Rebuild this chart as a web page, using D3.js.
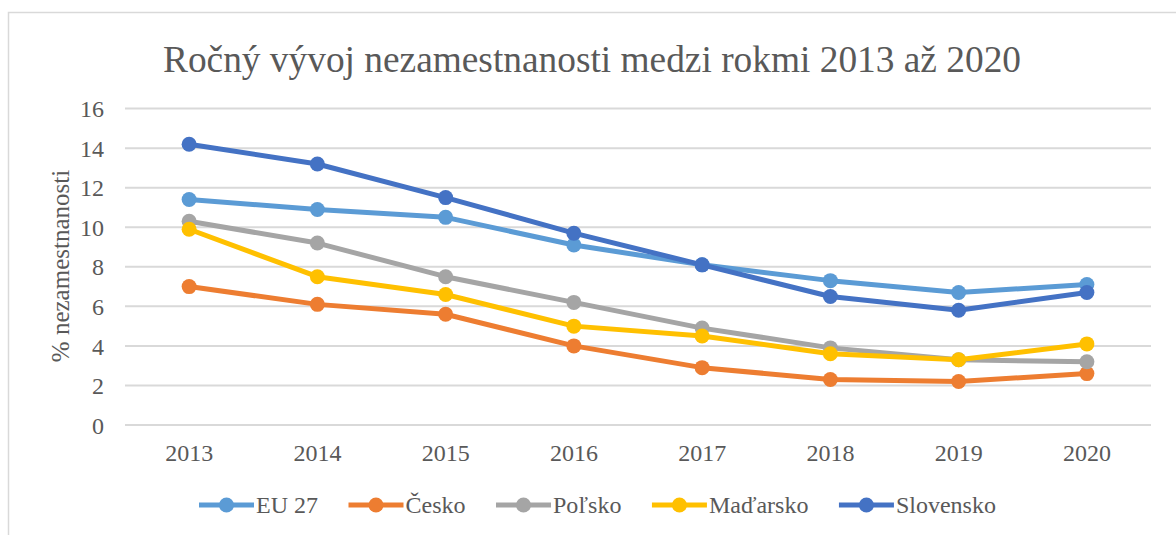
<!DOCTYPE html>
<html>
<head>
<meta charset="utf-8">
<script src="https://cdn.jsdelivr.net/npm/d3@7"></script>
<style>
  body { margin: 0; background: #fff; }
</style>
</head>
<body>
<svg id="chart" width="1176" height="535"></svg>
<script>
// data
var years = ["2013", "2014", "2015", "2016", "2017", "2018", "2019", "2020"];
var seriesNames = ["EU 27", "Česko", "Poľsko", "Maďarsko", "Slovensko"];
var seriesColors = ["#5B9BD5", "#ED7D31", "#A5A5A5", "#FFC000", "#4472C4"];
var eu27 = [11.4, 10.9, 10.5, 9.1, 8.1, 7.3, 6.7, 7.1];
var cesko = [7.0, 6.1, 5.6, 4.0, 2.9, 2.3, 2.2, 2.6];
var polsko = [10.3, 9.2, 7.5, 6.2, 4.9, 3.9, 3.3, 3.2];
var madarsko = [9.9, 7.5, 6.6, 5.0, 4.5, 3.6, 3.3, 4.1];
var slovensko = [14.2, 13.2, 11.5, 9.7, 8.1, 6.5, 5.8, 6.7];
var yTicks = [0, 2, 4, 6, 8, 10, 12, 14, 16];

var FONT = "Liberation Serif";
var TXT = "#595959";

var seriesValues = [eu27, cesko, polsko, madarsko, slovensko];
var series = seriesNames.map(function(n, i) {
  return { name: n, color: seriesColors[i], values: seriesValues[i] };
});

var svg = d3.select("#chart");

// chart frame (left + top edges visible)
svg.append("path")
  .attr("d", "M8.5,535 L8.5,12.5 L1176,12.5")
  .attr("fill", "none")
  .attr("stroke", "#d9d9d9")
  .attr("stroke-width", 1.5);

var x = d3.scaleBand().domain(years).range([125, 1151]);
var y = d3.scaleLinear().domain([0, 16]).range([425, 108.6]);

// grid lines
svg.append("g").selectAll("line")
  .data(yTicks)
  .enter().append("line")
    .attr("x1", 125).attr("x2", 1151)
    .attr("y1", function(d) { return y(d); })
    .attr("y2", function(d) { return y(d); })
    .attr("stroke", "#d9d9d9")
    .attr("stroke-width", 2);

// y axis labels
var yAxis = d3.axisLeft(y).tickValues(yTicks).tickSize(0).tickPadding(21);
var gy = svg.append("g").attr("transform", "translate(125,0)").call(yAxis);
gy.attr("font-family", FONT).attr("font-size", 24);
gy.select(".domain").remove();
gy.selectAll("text")
  .attr("fill", TXT)
  .attr("dy", "0.34em");

// x axis labels
var xAxis = d3.axisBottom(x).tickSize(0);
var gx = svg.append("g").attr("transform", "translate(0,425)").call(xAxis);
gx.attr("font-family", FONT).attr("font-size", 24);
gx.select(".domain").remove();
gx.selectAll("text")
  .attr("fill", TXT)
  .attr("y", 36)
  .attr("dy", 0);

// axis title
svg.append("text")
  .attr("transform", "translate(69,266) rotate(-90)")
  .attr("text-anchor", "middle")
  .attr("font-family", FONT)
  .attr("font-size", 25)
  .attr("fill", TXT)
  .text("% nezamestnanosti");

// title
var title = svg.append("text")
  .attr("x", 592).attr("y", 72)
  .attr("text-anchor", "middle")
  .attr("font-family", FONT)
  .attr("font-size", 38)
  .attr("fill", TXT)
  .text("Ročný vývoj nezamestnanosti medzi rokmi 2013 až 2020");
title.attr("textLength", 858).attr("lengthAdjust", "spacingAndGlyphs");

var line = d3.line()
  .x(function(d, i) { return x(years[i]) + x.bandwidth() / 2; })
  .y(function(d) { return y(d); });

var groups = svg.append("g").selectAll("g")
  .data(series)
  .enter().append("g");

groups.append("path")
  .attr("d", function(s) { return line(s.values); })
  .attr("fill", "none")
  .attr("stroke", function(s) { return s.color; })
  .attr("stroke-width", 5)
  .attr("stroke-linejoin", "round");

groups.selectAll("circle")
  .data(function(s) { return s.values.map(function(v) { return { v: v, c: s.color }; }); })
  .enter().append("circle")
    .attr("cx", function(d, i) { return x(years[i]) + x.bandwidth() / 2; })
    .attr("cy", function(d) { return y(d.v); })
    .attr("r", 7.5)
    .attr("fill", function(d) { return d.c; });

// legend
var legend = svg.append("g");
var lx = 199, ly = 505;
series.forEach(function(s) {
  var item = legend.append("g");
  item.append("line")
    .attr("x1", lx).attr("x2", lx + 55)
    .attr("y1", ly).attr("y2", ly)
    .attr("stroke", s.color).attr("stroke-width", 5);
  item.append("circle")
    .attr("cx", lx + 27.5).attr("cy", ly).attr("r", 7.5)
    .attr("fill", s.color);
  var t = item.append("text")
    .attr("x", lx + 57).attr("y", ly).attr("dy", "0.34em")
    .attr("font-family", FONT)
    .attr("font-size", 24)
    .attr("fill", TXT)
    .text(s.name);
  lx = lx + 57 + t.node().getComputedTextLength() + 30.5;
});
</script>
</body>
</html>
